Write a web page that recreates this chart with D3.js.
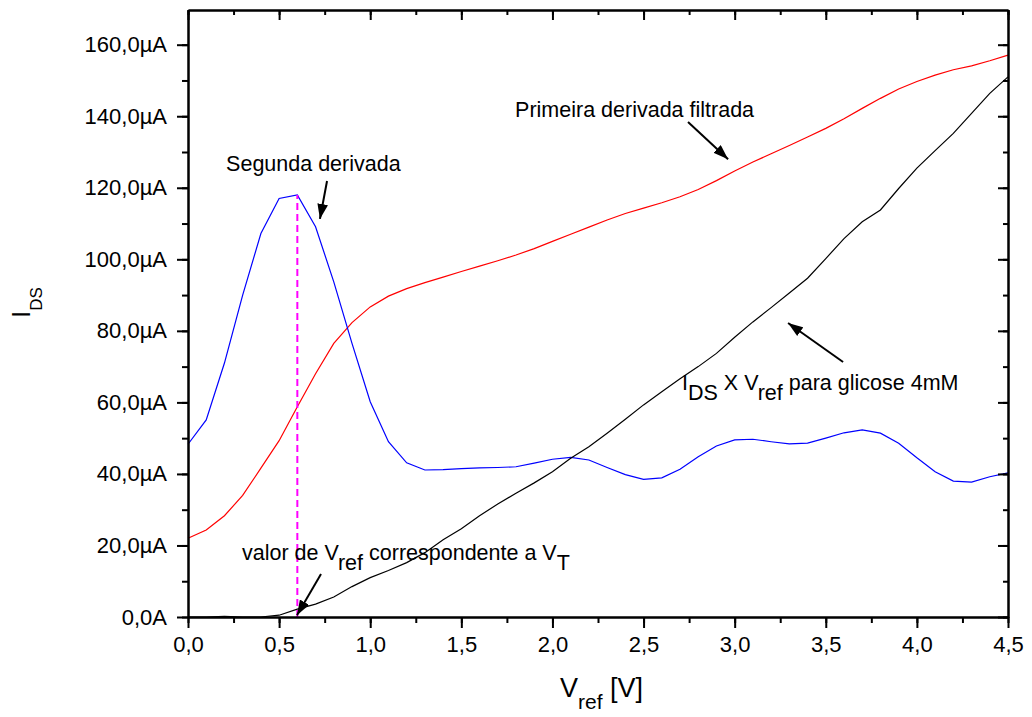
<!DOCTYPE html>
<html lang="en">
<head>
  <meta charset="UTF-8">
  <title>IDS x Vref</title>
  <script src="https://d3js.org/d3.v7.min.js"></script>
  <style>
    body { margin: 0; background: #fff; }
    svg { display: block; font-family: "Liberation Sans", Arial, sans-serif; }
  </style>
</head>
<body>
<script>
  // x values (V_ref, volts)
  const vref = [0.0, 0.1, 0.2, 0.3, 0.4, 0.5, 0.6, 0.7, 0.8, 0.9,
                1.0, 1.1, 1.2, 1.3, 1.4, 1.5, 1.6, 1.7, 1.8, 1.9,
                2.0, 2.1, 2.2, 2.3, 2.4, 2.5, 2.6, 2.7, 2.8, 2.9,
                3.0, 3.1, 3.2, 3.3, 3.4, 3.5, 3.6, 3.7, 3.8, 3.9,
                4.0, 4.1, 4.2, 4.3, 4.4, 4.5];

  // segunda derivada (blue), in µA
  const segunda = [48.3, 55.1, 71.0, 90.0, 107.2, 117.0, 118.0, 109.1, 93.7, 76.5,
                   60.2, 49.0, 43.1, 41.1, 41.2, 41.5, 41.7, 41.8, 42.0, 43.0,
                   44.1, 44.6, 43.9, 41.8, 39.8, 38.5, 38.9, 41.3, 44.8, 47.8,
                   49.5, 49.7, 49.0, 48.4, 48.6, 50.0, 51.5, 52.3, 51.4, 48.6,
                   44.5, 40.6, 38.0, 37.7, 39.2, 40.3];

  // primeira derivada filtrada (red)
  const primeira = [22.0, 24.3, 28.3, 34.0, 41.6, 49.3, 58.8, 68.0, 76.5, 82.3,
                    86.7, 89.7, 91.8, 93.5, 95.0, 96.6, 98.1, 99.6, 101.2, 103.0,
                    105.0, 107.0, 109.0, 111.0, 112.8, 114.3, 115.8, 117.5, 119.5, 122.0,
                    124.7, 127.2, 129.5, 131.8, 134.2, 136.6, 139.3, 142.2, 145.0, 147.6,
                    149.7, 151.5, 153.0, 154.1, 155.5, 157.1];

  // IDS x Vref, glicose 4mM (black)
  const ids = [0, 0, 0.2, 0, 0, 0.5, 2.2, 3.6, 5.6, 8.5,
               11.0, 13.0, 15.2, 18.0, 21.6, 24.7, 28.3, 31.6, 34.6, 37.5,
               40.6, 44.4, 47.6, 51.4, 55.3, 59.3, 63.0, 66.6, 70.0, 73.7,
               78.2, 82.5, 86.5, 90.6, 94.7, 100.2, 105.8, 110.5, 113.8, 119.8,
               125.5, 130.4, 135.2, 140.8, 146.4, 151.0];

  const vT = 0.6;          // valor de Vref correspondente a VT
  const vTpeak = 118.0;    // pico da segunda derivada

  const xTicks = [0, 0.5, 1.0, 1.5, 2.0, 2.5, 3.0, 3.5, 4.0, 4.5];
  const yTicks = [0, 20, 40, 60, 80, 100, 120, 140, 160];

  const W = 1032, H = 717;
  const mLeft = 188, mRight = 1008, mTop = 10, mBottom = 617;

  const svg = d3.select("body").append("svg")
      .attr("width", W)
      .attr("height", H);

  const x = d3.scaleLinear().domain([0, 4.5]).range([mLeft, mRight]);
  const y = d3.scaleLinear().domain([0, 169.7]).range([mBottom, mTop]);

  const fmtX = d => d.toFixed(1).replace(".", ",");
  const fmtY = d => d === 0 ? "0,0A" : d.toFixed(1).replace(".", ",") + "\u00b5A";

  const xMinor = d3.range(0, 4.51, 0.25);
  const yMinor = d3.range(0, 170, 10);

  // arrow head
  svg.append("defs").append("marker")
      .attr("id", "arrow")
      .attr("viewBox", "0 -5 14 10")
      .attr("refX", 14)
      .attr("refY", 0)
      .attr("markerUnits", "userSpaceOnUse")
      .attr("markerWidth", 15)
      .attr("markerHeight", 11)
      .attr("orient", "auto")
      .append("path")
      .attr("d", "M0,-5L14,0L0,5Z")
      .attr("fill", "#000");

  // curves
  const series = [
    { name: "primeira", values: primeira, color: "#ff0000" },
    { name: "segunda", values: segunda, color: "#0000ff" },
    { name: "ids", values: ids, color: "#000000" }
  ];

  const line = d3.line()
      .x((d, i) => x(vref[i]))
      .y(d => y(d));

  svg.selectAll("path.curve")
      .data(series)
      .enter()
      .append("path")
      .attr("class", "curve")
      .attr("d", d => line(d.values))
      .attr("fill", "none")
      .attr("stroke", d => d.color)
      .attr("stroke-width", 1.2);

  // dashed VT line
  svg.append("line")
      .attr("x1", x(vT)).attr("x2", x(vT))
      .attr("y1", y(0)).attr("y2", y(vTpeak))
      .attr("stroke", "#ff00ff")
      .attr("stroke-width", 2)
      .attr("stroke-dasharray", "7,4");

  // axes
  function styleAxis(g) {
    g.select(".domain").attr("stroke-width", 2).attr("stroke", "#000");
    g.selectAll(".tick line").attr("stroke-width", 2).attr("stroke", "#000");
    g.selectAll(".tick text").attr("fill", "#000")
        .attr("font-size", 22)
        .attr("font-family", "'Liberation Sans', Arial, sans-serif");
  }

  // bottom
  svg.append("g").attr("transform", `translate(0,${mBottom})`)
      .call(d3.axisBottom(x).tickValues(xMinor).tickSize(6).tickFormat("").tickSizeOuter(0))
      .call(styleAxis);
  svg.append("g").attr("transform", `translate(0,${mBottom})`)
      .call(d3.axisBottom(x).tickValues(xTicks).tickSize(11).tickPadding(8).tickFormat(fmtX).tickSizeOuter(0))
      .call(styleAxis);

  // left
  svg.append("g").attr("transform", `translate(${mLeft},0)`)
      .call(d3.axisLeft(y).tickValues(yMinor).tickSize(6).tickFormat("").tickSizeOuter(0))
      .call(styleAxis);
  svg.append("g").attr("transform", `translate(${mLeft},0)`)
      .call(d3.axisLeft(y).tickValues(yTicks).tickSize(11).tickPadding(10).tickFormat(fmtY).tickSizeOuter(0))
      .call(styleAxis);

  // top (inward ticks)
  svg.append("g").attr("transform", `translate(0,${mTop})`)
      .call(d3.axisBottom(x).tickValues(xMinor).tickSize(5).tickFormat("").tickSizeOuter(0))
      .call(styleAxis);
  svg.append("g").attr("transform", `translate(0,${mTop})`)
      .call(d3.axisBottom(x).tickValues(xTicks).tickSize(10).tickFormat("").tickSizeOuter(0))
      .call(styleAxis);

  // right (inward ticks)
  svg.append("g").attr("transform", `translate(${mRight},0)`)
      .call(d3.axisLeft(y).tickValues(yMinor).tickSize(5).tickFormat("").tickSizeOuter(0))
      .call(styleAxis);
  svg.append("g").attr("transform", `translate(${mRight},0)`)
      .call(d3.axisLeft(y).tickValues(yTicks).tickSize(10).tickFormat("").tickSizeOuter(0))
      .call(styleAxis);

  // axis titles
  const xt = svg.append("text")
      .attr("x", 560).attr("y", 697)
      .attr("font-size", 27);
  xt.append("tspan").text("V");
  xt.append("tspan").attr("dy", 12).attr("font-size", 21).text("ref");
  xt.append("tspan").attr("dy", -12).text(" [V]");

  const yt = svg.append("text")
      .attr("transform", "translate(30,318) rotate(-90)")
      .attr("font-size", 26);
  yt.append("tspan").text("I");
  yt.append("tspan").attr("dy", 12).attr("font-size", 17).text("DS");

  // annotations (data units)
  const notes = [
    { x: 0.209, y: 124.7, parts: [["Segunda derivada", 0]] },
    { x: 1.795, y: 139.9, parts: [["Primeira derivada filtrada", 0]] },
    { x: 2.711, y: 63.4, parts: [["I", 0], ["DS", 1], [" X V", 0], ["ref", 1], [" para glicose 4mM", 0]] },
    { x: 0.296, y: 15.9, parts: [["valor de V", 0], ["ref", 1], [" correspondente a V", 0], ["T", 1]] }
  ];

  const arrows = [
    { x1: 0.763, y1: 121.9, x2: 0.724, y2: 111.3 },
    { x1: 2.744, y1: 138.4, x2: 2.964, y2: 128.0 },
    { x1: 3.595, y1: 71.3, x2: 3.293, y2: 82.2 },
    { x1: 0.730, y1: 12.0, x2: 0.598, y2: 0.5 }
  ];

  notes.forEach(n => {
    const t = svg.append("text")
        .attr("x", x(n.x)).attr("y", y(n.y))
        .attr("font-size", 21.5);
    let prev = 0;
    n.parts.forEach(([s, sub]) => {
      t.append("tspan")
          .attr("dy", (sub - prev) * 10)
          .text(s);
      prev = sub;
    });
  });

  svg.selectAll("line.arrow")
      .data(arrows)
      .enter()
      .append("line")
      .attr("class", "arrow")
      .attr("x1", d => x(d.x1)).attr("y1", d => y(d.y1))
      .attr("x2", d => x(d.x2)).attr("y2", d => y(d.y2))
      .attr("stroke", "#000")
      .attr("stroke-width", 2)
      .attr("marker-end", "url(#arrow)");
</script>
</body>
</html>
